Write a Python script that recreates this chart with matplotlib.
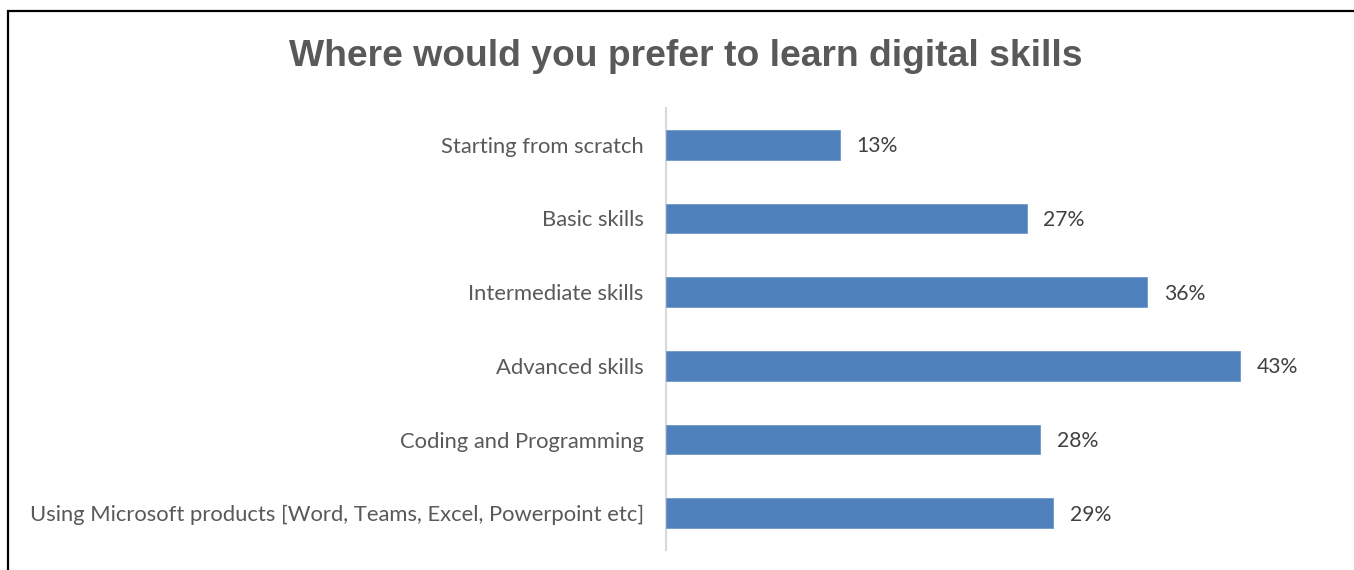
import matplotlib
matplotlib.use("Agg")
import matplotlib.pyplot as plt
from matplotlib.patches import Rectangle

# survey answers, top to bottom
categories = [
    "Starting from scratch",
    "Basic skills",
    "Intermediate skills",
    "Advanced skills",
    "Coding and Programming",
    "Using Microsoft products [Word, Teams, Excel, Powerpoint etc]",
]
shares = [13, 27, 36, 43, 28, 29]

BAR = "#4f81bd"
LABEL = "#595959"
VALUE = "#404040"
AXIS = "#d9d9d9"

W, H = 1354, 570
fig = plt.figure(figsize=(W / 100, H / 100), dpi=100)
fig.patch.set_facecolor("white")

# chart frame, only the left and top edges are inside the canvas
fig.patches.append(Rectangle((8 / W, -0.1), 1.2, 1 - 11 / H + 0.1,
                             transform=fig.transFigure, fill=False,
                             edgecolor="black", linewidth=1.6))

ax = fig.add_axes([666 / W, 20 / H, 668 / W, 442 / H])
ys = range(len(categories))
ax.barh(ys, shares, height=0.4, color=BAR, edgecolor="#6f97c9",
        linewidth=0.6, zorder=3)
for y, v in zip(ys, shares):
    ax.annotate(f"{v}%", (v, y), textcoords="offset points", xytext=(12, -1),
                va="center", ha="left", color=VALUE, fontsize=15.2,
                family="Lato")

ax.set_xlim(0, 50)
ax.set_ylim(len(categories) - 0.5, -0.5)
ax.set_yticks(list(ys))
ax.set_yticklabels(categories, color=LABEL, fontsize=15.8, family="Lato")
ax.tick_params(axis="y", length=0, pad=16)
ax.set_xticks([])
for s in ["top", "right", "bottom"]:
    ax.spines[s].set_visible(False)
ax.spines["left"].set_color(AXIS)
ax.spines["left"].set_linewidth(1.5)

fig.text(686 / W, 1 - 57 / H, "Where would you prefer to learn digital skills",
         ha="center", va="center", fontsize=26.8, fontweight="bold",
         color=LABEL, family="Liberation Sans")

fig.savefig("out.png", dpi=100)
